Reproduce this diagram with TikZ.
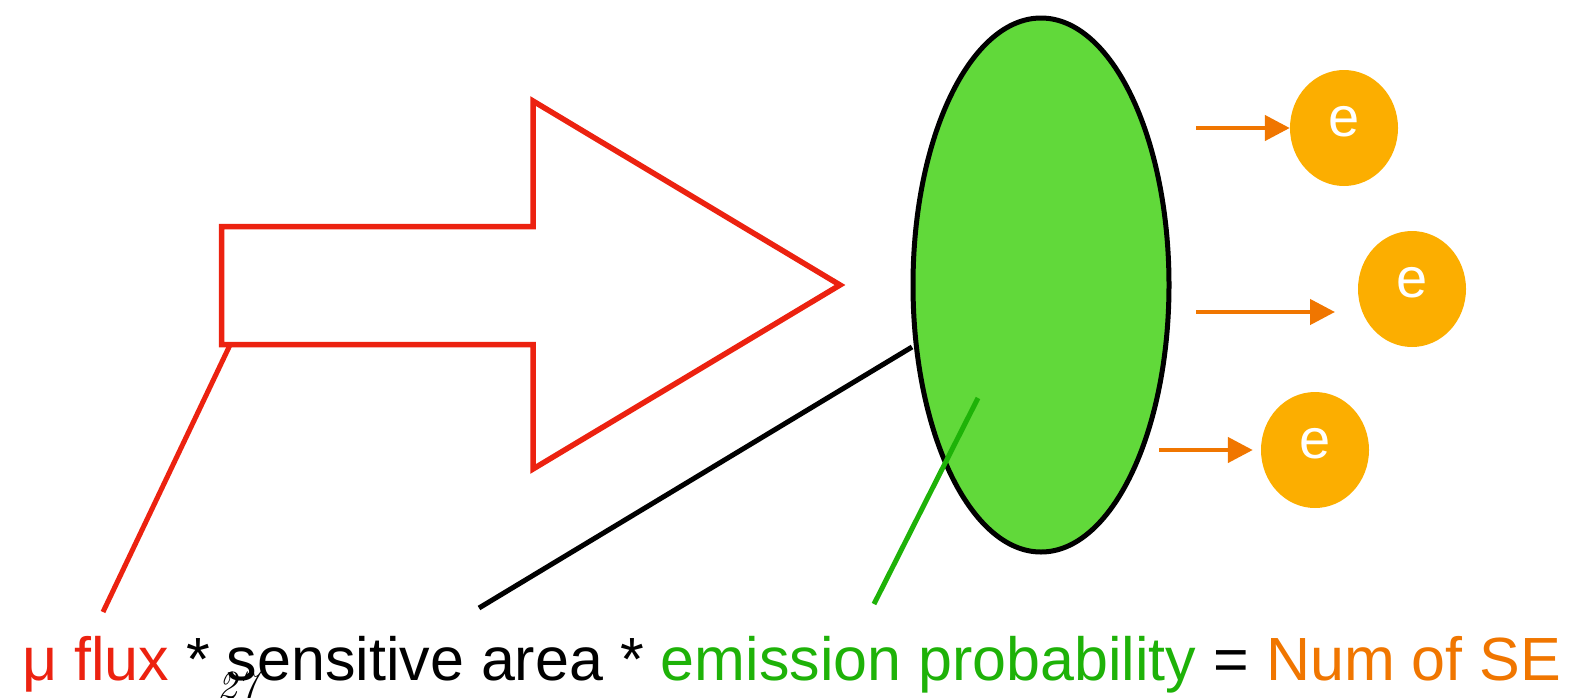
\documentclass[tikz,border=0pt]{standalone}
\usepackage{fontspec}
\newfontfamily\labelfont{Liberation Sans}
\usetikzlibrary{
    arrows.meta,
    shapes.geometric,
    positioning
}
\definecolor{fluxred}{RGB}{236,34,16}
\definecolor{cellgreen}{RGB}{97,217,58}
\definecolor{probgreen}{RGB}{30,178,8}
\definecolor{seorange}{RGB}{240,118,0}
\definecolor{eorange}{RGB}{252,174,0}
\tikzstyle{cell} = [
    ellipse,
    draw=black,
    line width=5pt,
    fill=cellgreen,
    minimum width=256pt,
    minimum height=534pt,
    inner sep=0pt
]
\tikzstyle{electron} = [
    ellipse,
    fill=eorange,
    minimum width=108pt,
    minimum height=116pt,
    inner sep=0pt,
    text depth=14pt,
    text=white,
    font=\labelfont\fontsize{56}{60}\selectfont
]
\tikzstyle{emit} = [
    -{Triangle[length=25pt,width=25pt]},
    line width=4.5pt,
    draw=seorange
]
\tikzstyle{pointer} = [
    line width=5pt,
    line cap=butt
]
\tikzstyle{fluxarrow} = [
    draw=fluxred,
    line width=5.5pt,
    line join=miter
]

\begin{document}
\begin{tikzpicture}[x=1pt, y=-1pt]
        \useasboundingbox (0,0) rectangle (1583,697);

        % Incoming flux
        \draw[fluxarrow] (221.5,226.5) -- (533,226.5) -- (533,101) -- (840,285)
            -- (533,469) -- (533,344.5) -- (221.5,344.5) -- cycle;
        \coordinate (fluxcorner) at (230,345);

        % Sensitive cell
        \node[cell] (cell) at (1041,285) {};

        % Secondary electrons
        \node[electron] (e1) at (1344,128) {e};
        \node[electron] (e2) at (1412,289) {e};
        \node[electron] (e3) at (1315,450) {e};

        \coordinate (s1) at (1196,128);
        \coordinate (s2) at (1196,312);
        \coordinate (t2) at (1335,312);
        \coordinate (s3) at (1159,450);

        \draw[emit] (s1) -- (e1);
        \draw[emit] (s2) -- (t2);
        \draw[emit, shorten >=8pt] (s3) -- (e3);

        % Formula
        \node[anchor=base west, inner sep=0pt,
              font=\labelfont\fontsize{61}{70}\selectfont] (formula) at (22,680)
            {{\color{fluxred}μ flux} * sensitive area * {\color{probgreen}emission probability} = {\color{seorange}Num of SE}};
        \node[anchor=base west, inner sep=0pt,
              font=\fontsize{40}{40}\selectfont\itshape] (page) at (217,698) {27};

        \coordinate (fluxend) at (103,612);
        \coordinate (areastart) at (912,347);
        \coordinate (areaend) at (479,608);
        \coordinate (probstart) at (978,398);
        \coordinate (probend) at (874,604);

        % Pointers
        \draw[pointer, draw=fluxred] (fluxcorner) -- (fluxend);
        \draw[pointer, draw=black] (areastart) -- (areaend);
        \draw[pointer, draw=probgreen] (probstart) -- (probend);
    \end{tikzpicture}
\end{document}
